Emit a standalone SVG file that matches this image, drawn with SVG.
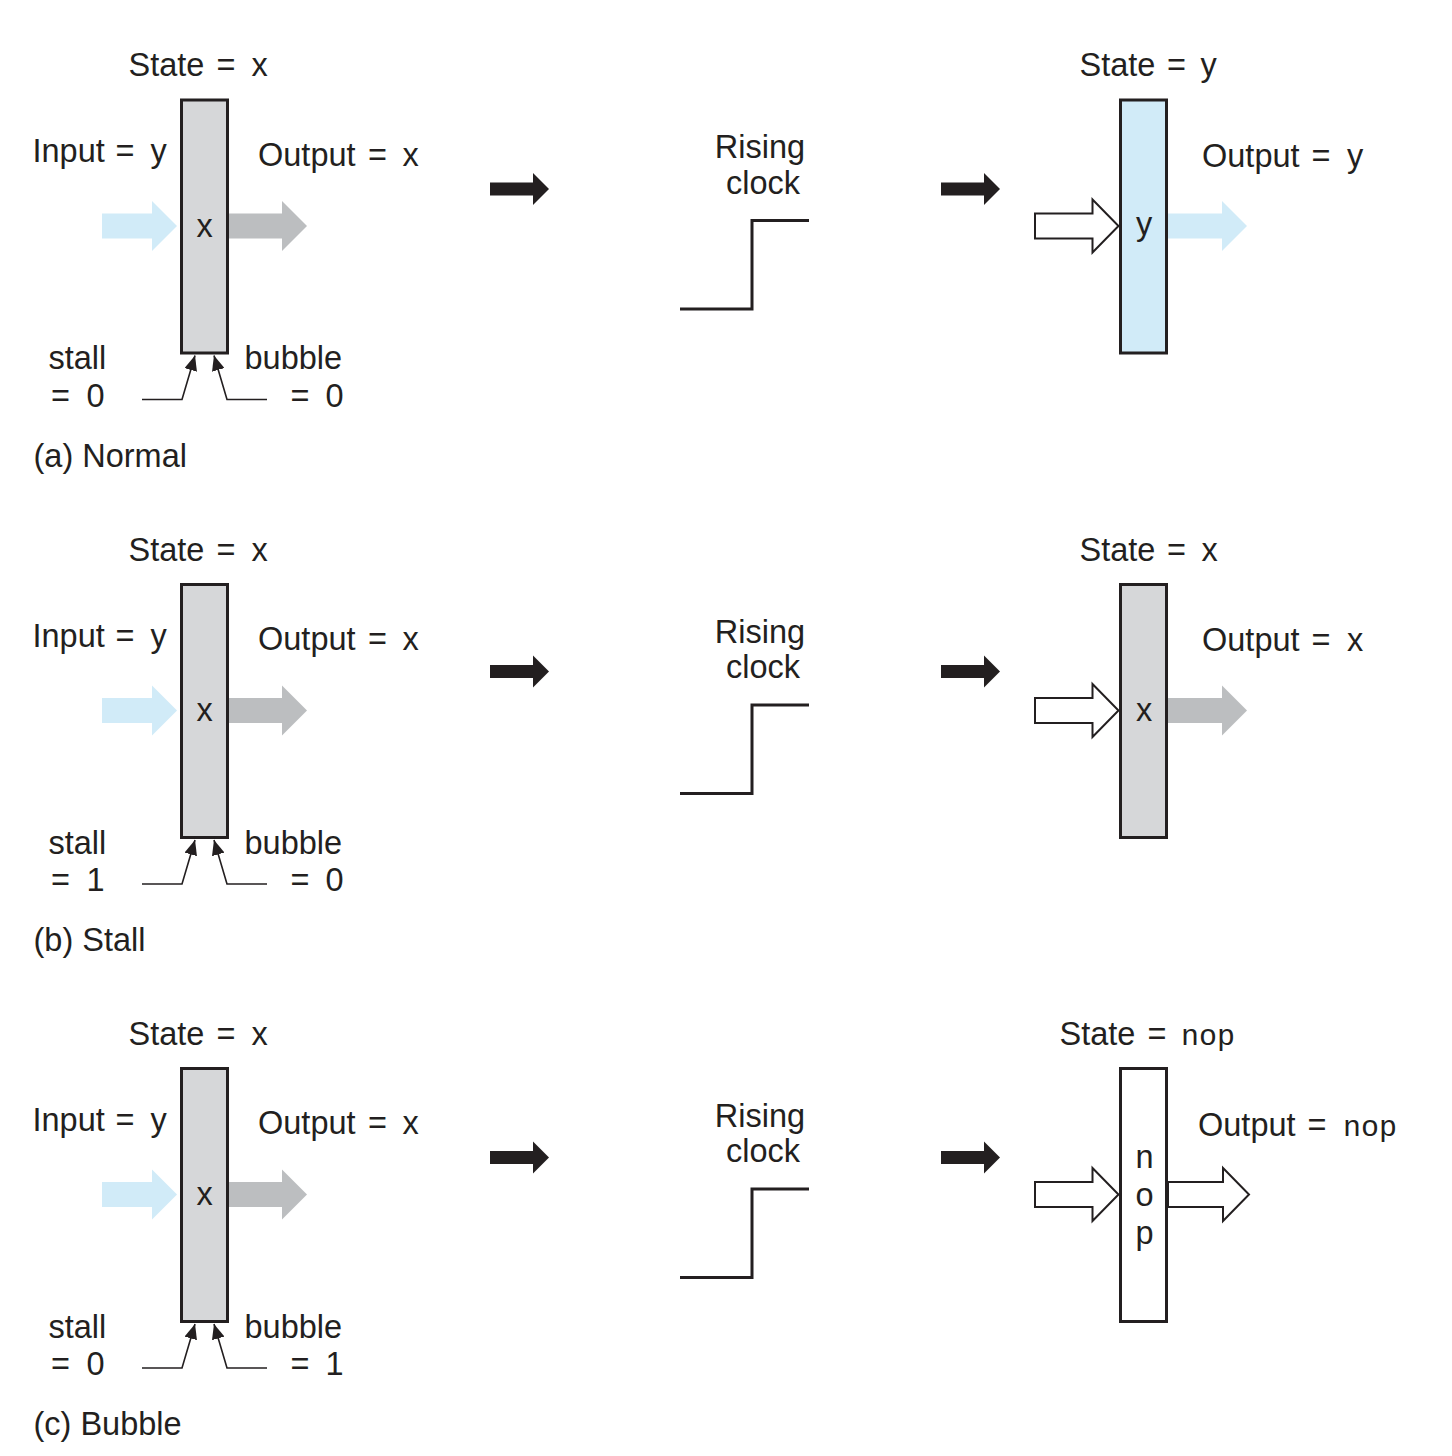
<svg xmlns="http://www.w3.org/2000/svg" width="1452" height="1456" viewBox="0 0 1452 1456">
<style>
text{font-family:"Liberation Sans",Arial,sans-serif;font-size:32.5px;fill:#231f20}
.mono{font-family:"Liberation Mono","Courier New",monospace;font-size:30px}
.vert{writing-mode:vertical-lr;text-orientation:upright}
.reg{stroke:#231f20;stroke-width:3}
.gray{fill:#d6d7d9}
.blue{fill:#d1ebf8}
.white{fill:#fff}
.ablue{fill:#d1ebf8}
.agray{fill:#bcbec0}
.awhite{fill:#fff;stroke:#231f20;stroke-width:2;stroke-linejoin:miter}
.ablack{fill:#231f20}
.clk{fill:none;stroke:#231f20;stroke-width:3}
.ctl{fill:none;stroke:#231f20;stroke-width:1.6}
</style>
<defs>
<marker id="ah" markerUnits="userSpaceOnUse" markerWidth="16" markerHeight="13" refX="15" refY="6.5" orient="auto">
<path d="M0,0 L15,6.5 L0,13 Z" fill="#231f20"/>
</marker>
<path id="inBlue" d="M102,213.5 H152 V201 L177,226 L152,251 V238.5 H102 Z"/>
<path id="outGray" d="M229,213.5 H282 V201 L307,226 L282,251 V238.5 H229 Z"/>
<path id="inWhite" d="M1035,213.5 H1092.5 V199.5 L1118.5,226 L1092.5,252.5 V238.5 H1035 Z"/>
<path id="bigArrow" d="M0,-6.5 H43 V-16 L59,0 L43,16 V6.5 H0 Z"/>
</defs>

<!-- Panel (a) Normal -->
<g id="panel-a">
<g id="a-reg-before">
<use href="#inBlue" class="ablue"/>
<use href="#outGray" class="agray"/>
<rect class="reg gray" x="181.5" y="100" width="46" height="253"/>
<text x="204.5" y="236.5" text-anchor="middle">x</text>
<text><tspan x="128.5" y="76">State</tspan><tspan x="216.5" y="76">=</tspan><tspan x="251.5" y="76">x</tspan></text>
<text><tspan x="32.5" y="162">Input</tspan><tspan x="115.5" y="162">=</tspan><tspan x="150.5" y="162">y</tspan></text>
<text><tspan x="258" y="165.5">Output</tspan><tspan x="368" y="165.5">=</tspan><tspan x="402.5" y="165.5">x</tspan></text>
<text x="48.5" y="369">stall</text>
<text><tspan x="51" y="406.5">=</tspan><tspan x="86.5" y="406.5">0</tspan></text>
<text x="244.5" y="369">bubble</text>
<text><tspan x="290.5" y="406.5">=</tspan><tspan x="325.5" y="406.5">0</tspan></text>
</g>
<g id="a-clock">
<text x="760" y="158" text-anchor="middle">Rising</text>
<text x="763" y="193.5" text-anchor="middle">clock</text>
<polyline class="clk" points="680,309 752,309 752,220.5 809,220.5"/>
</g>
<g id="a-reg-after">
<use href="#inWhite" class="awhite"/>
<path class="ablue" d="M1168,213.5 H1222 V201 L1247,226 L1222,251 V238.5 H1168 Z"/>
<rect class="reg blue" x="1120.5" y="100" width="46" height="253"/>
<text x="1144" y="235" text-anchor="middle">y</text>
<text><tspan x="1079.5" y="76">State</tspan><tspan x="1167" y="76">=</tspan><tspan x="1200.5" y="76">y</tspan></text>
<text><tspan x="1202" y="166.5">Output</tspan><tspan x="1311.5" y="166.5">=</tspan><tspan x="1347" y="166.5">y</tspan></text>
</g>
<text id="a-caption" x="33.5" y="467">(a) Normal</text>
</g>

<!-- Panel (b) Stall -->
<g id="panel-b" transform="translate(0,484.5)">
<g id="b-reg-before">
<use href="#inBlue" class="ablue"/>
<use href="#outGray" class="agray"/>
<rect class="reg gray" x="181.5" y="100" width="46" height="253"/>
<text x="204.5" y="236.5" text-anchor="middle">x</text>
<text><tspan x="128.5" y="76">State</tspan><tspan x="216.5" y="76">=</tspan><tspan x="251.5" y="76">x</tspan></text>
<text><tspan x="32.5" y="162">Input</tspan><tspan x="115.5" y="162">=</tspan><tspan x="150.5" y="162">y</tspan></text>
<text><tspan x="258" y="165.5">Output</tspan><tspan x="368" y="165.5">=</tspan><tspan x="402.5" y="165.5">x</tspan></text>
<text x="48.5" y="369">stall</text>
<text><tspan x="51" y="406.5">=</tspan><tspan x="86.5" y="406.5">1</tspan></text>
<text x="244.5" y="369">bubble</text>
<text><tspan x="290.5" y="406.5">=</tspan><tspan x="325.5" y="406.5">0</tspan></text>
</g>
<g id="b-clock">
<text x="760" y="158" text-anchor="middle">Rising</text>
<text x="763" y="193.5" text-anchor="middle">clock</text>
<polyline class="clk" points="680,309 752,309 752,220.5 809,220.5"/>
</g>
<g id="b-reg-after">
<use href="#inWhite" class="awhite"/>
<path class="agray" d="M1168,213.5 H1222 V201 L1247,226 L1222,251 V238.5 H1168 Z"/>
<rect class="reg gray" x="1120.5" y="100" width="46" height="253"/>
<text x="1144" y="236.5" text-anchor="middle">x</text>
<text><tspan x="1079.5" y="76">State</tspan><tspan x="1167" y="76">=</tspan><tspan x="1201.5" y="76">x</tspan></text>
<text><tspan x="1202" y="166">Output</tspan><tspan x="1311.5" y="166">=</tspan><tspan x="1347" y="166">x</tspan></text>
</g>
<text id="b-caption" x="33.5" y="466">(b) Stall</text>
</g>

<!-- Panel (c) Bubble -->
<g id="panel-c" transform="translate(0,968.5)">
<g id="c-reg-before">
<use href="#inBlue" class="ablue"/>
<use href="#outGray" class="agray"/>
<rect class="reg gray" x="181.5" y="100" width="46" height="253"/>
<text x="204.5" y="236.5" text-anchor="middle">x</text>
<text><tspan x="128.5" y="76">State</tspan><tspan x="216.5" y="76">=</tspan><tspan x="251.5" y="76">x</tspan></text>
<text><tspan x="32.5" y="162">Input</tspan><tspan x="115.5" y="162">=</tspan><tspan x="150.5" y="162">y</tspan></text>
<text><tspan x="258" y="165.5">Output</tspan><tspan x="368" y="165.5">=</tspan><tspan x="402.5" y="165.5">x</tspan></text>
<text x="48.5" y="369">stall</text>
<text><tspan x="51" y="406.5">=</tspan><tspan x="86.5" y="406.5">0</tspan></text>
<text x="244.5" y="369">bubble</text>
<text><tspan x="290.5" y="406.5">=</tspan><tspan x="325.5" y="406.5">1</tspan></text>
</g>
<g id="c-clock">
<text x="760" y="158" text-anchor="middle">Rising</text>
<text x="763" y="193.5" text-anchor="middle">clock</text>
<polyline class="clk" points="680,309 752,309 752,220.5 809,220.5"/>
</g>
<g id="c-reg-after">
<use href="#inWhite" class="awhite"/>
<path class="awhite" d="M1168,213.5 H1223 V199.5 L1249,226 L1223,252.5 V238.5 H1168 Z"/>
<rect class="reg white" x="1120.5" y="100" width="46" height="253"/>
<text class="vert" x="1144.5" y="227" text-anchor="middle" letter-spacing="2">nop</text>
<text><tspan x="1059.5" y="76">State</tspan><tspan x="1147.5" y="76">=</tspan><tspan x="1181" y="76" class="mono">nop</tspan></text>
<text><tspan x="1198" y="167">Output</tspan><tspan x="1307.5" y="167">=</tspan><tspan x="1343" y="167" class="mono">nop</tspan></text>
</g>
<text id="c-caption" x="33.5" y="466">(c) Bubble</text>
</g>

<!-- Connectors -->
<g id="connectors">
<g class="ctl">
<polyline points="142,399.5 182,399.5 195,355.5" marker-end="url(#ah)"/>
<polyline points="267,399.5 227,399.5 214,355.5" marker-end="url(#ah)"/>
<polyline points="142,884 182,884 195,840" marker-end="url(#ah)"/>
<polyline points="267,884 227,884 214,840" marker-end="url(#ah)"/>
<polyline points="142,1368 182,1368 195,1324" marker-end="url(#ah)"/>
<polyline points="267,1368 227,1368 214,1324" marker-end="url(#ah)"/>
</g>
<use href="#bigArrow" class="ablack" x="490" y="189"/>
<use href="#bigArrow" class="ablack" x="941" y="189"/>
<use href="#bigArrow" class="ablack" x="490" y="671.5"/>
<use href="#bigArrow" class="ablack" x="941" y="671.5"/>
<use href="#bigArrow" class="ablack" x="490" y="1157.5"/>
<use href="#bigArrow" class="ablack" x="941" y="1157.5"/>
</g>
</svg>
